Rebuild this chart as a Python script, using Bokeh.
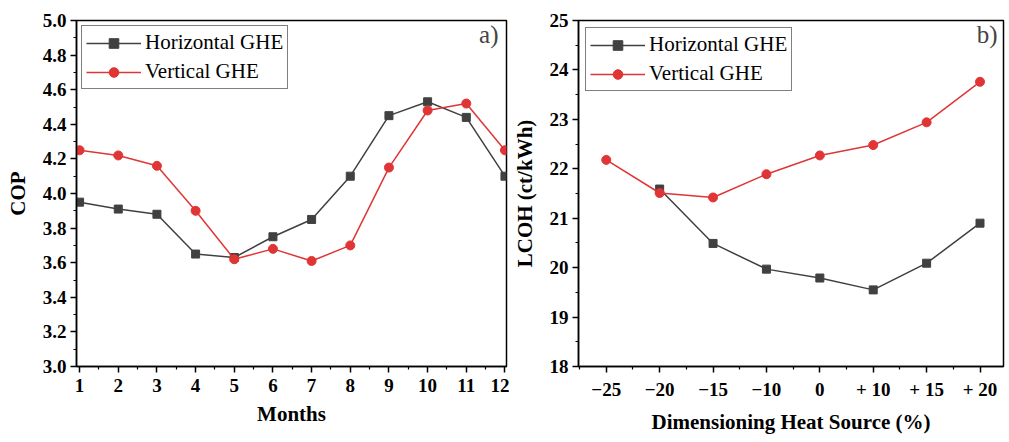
from bokeh.plotting import figure
from bokeh.models import FixedTicker, Legend, LegendItem, Range1d, Label, Title, CustomJSTickFormatter
from bokeh.layouts import row
from bokeh.embed import file_html
from bokeh.resources import INLINE

# ---- data ----
months = [1, 2, 3, 4, 5, 6, 7, 8, 9, 10, 11, 12]
cop_horizontal = [3.95, 3.91, 3.88, 3.65, 3.63, 3.75, 3.85, 4.10, 4.45, 4.53, 4.44, 4.10]
cop_vertical = [4.25, 4.22, 4.16, 3.90, 3.62, 3.68, 3.61, 3.70, 4.15, 4.48, 4.52, 4.25]

dim_labels = ["\u221225", "\u221220", "\u221215", "\u221210", "0", "+ 10", "+ 15", "+ 20"]
lcoh_horizontal_labels = ["\u221220", "\u221215", "\u221210", "0", "+ 10", "+ 15", "+ 20"]
lcoh_horizontal = [21.59, 20.49, 19.97, 19.79, 19.55, 20.09, 20.90]
lcoh_vertical_labels = dim_labels
lcoh_vertical = [22.18, 21.51, 21.42, 21.89, 22.27, 22.48, 22.94, 23.76]

cop_yticks = [3.0, 3.2, 3.4, 3.6, 3.8, 4.0, 4.2, 4.4, 4.6, 4.8, 5.0]
lcoh_yticks = [18, 19, 20, 21, 22, 23, 24, 25]

GRAY = "#404040"
RED = "#e03535"
SERIF = "Liberation Serif"
H = 442
TOP = 20
FRAME_H = 348


def style(p):
    p.outline_line_color = "black"
    p.outline_line_width = 1.5
    p.xgrid.visible = False
    p.ygrid.visible = False
    for ax in (p.xaxis[0], p.yaxis[0]):
        ax.axis_line_width = 1.5
        ax.major_tick_line_width = 1.5
        ax.minor_tick_line_width = 1.2
        ax.major_tick_in = 0
        ax.major_tick_out = 6
        ax.minor_tick_in = 0
        ax.minor_tick_out = 3
        ax.major_label_text_font = SERIF
        ax.major_label_text_font_style = "bold"
        ax.major_label_text_font_size = "19px"
        ax.major_label_text_color = "black"
        ax.axis_label_text_font = SERIF
        ax.axis_label_text_font_style = "bold"
        ax.axis_label_text_font_size = "21px"
        ax.axis_label_text_color = "black"
    p.xaxis[0].major_label_standoff = 6
    p.yaxis[0].major_label_standoff = 4
    p.yaxis[0].axis_label_standoff = 10


def x_title(p, text):
    t = Title(text=text, align="center", vertical_align="top", text_font=SERIF,
              text_font_style="bold", text_font_size="21px", text_color="black", standoff=14)
    p.add_layout(t, "below")


def make_legend(p, rh, rv, margin):
    leg = Legend(items=[LegendItem(label="Horizontal GHE", renderers=rh),
                        LegendItem(label="Vertical GHE", renderers=rv)],
                 location="top_left")
    leg.margin = margin
    leg.padding = 4
    leg.spacing = 4
    leg.label_text_font = SERIF
    leg.label_text_font_size = "21px"
    leg.label_text_color = "black"
    leg.glyph_width = 55
    leg.glyph_height = 24
    leg.label_height = 24
    leg.label_standoff = 4
    leg.border_line_color = "black"
    leg.border_line_width = 1
    leg.background_fill_alpha = 1
    p.add_layout(leg)


# ---- left panel ----
W1 = 509
p1 = figure(width=W1, height=H, output_backend="svg", toolbar_location=None,
            x_range=Range1d(0.92, 12.04), y_range=Range1d(3.0, 5.0),
            min_border_left=76, min_border_right=W1 - 76 - 430, min_border_top=TOP,
            min_border_bottom=H - TOP - FRAME_H)
style(p1)
p1.xaxis[0].ticker = FixedTicker(ticks=months, minor_ticks=[m + 0.5 for m in range(0, 13)])
p1.yaxis[0].ticker = FixedTicker(ticks=cop_yticks,
                                 minor_ticks=[round(3.0 + 0.1 * i, 1) for i in range(21)])
p1.yaxis[0].formatter = CustomJSTickFormatter(code="return tick.toFixed(1);")
p1.yaxis[0].axis_label = "COP"
x_title(p1, "Months")

lh = p1.line(months, cop_horizontal, line_color=GRAY, line_width=1.5)
sh = p1.scatter(months, cop_horizontal, marker="square", size=8, fill_color=GRAY, line_color=GRAY)
lv = p1.line(months, cop_vertical, line_color=RED, line_width=1.5)
sv = p1.scatter(months, cop_vertical, marker="circle", size=9, fill_color=RED, line_color=RED)
make_legend(p1, [lh, sh], [lv, sv], 5)
p1.add_layout(Label(x=12.04, y=4.92, text="a)", text_font=SERIF, text_font_size="25px",
                    text_align="right", text_baseline="middle", x_offset=-8))

# ---- right panel ----
xi = list(range(len(dim_labels)))
xh = [dim_labels.index(c) for c in lcoh_horizontal_labels]
xv = [dim_labels.index(c) for c in lcoh_vertical_labels]

W2 = 1009 - W1
p2 = figure(width=W2, height=H, output_backend="svg", toolbar_location=None,
            x_range=Range1d(-0.52, 7.44), y_range=Range1d(18, 25),
            min_border_left=571 - W1, min_border_right=W2 - (571 - W1) - 432, min_border_top=TOP,
            min_border_bottom=H - TOP - FRAME_H)
style(p2)
p2.xaxis[0].ticker = FixedTicker(ticks=xi, minor_ticks=[i + 0.5 for i in range(-1, 8)])
p2.xaxis[0].major_label_overrides = {i: lab for i, lab in enumerate(dim_labels)}
p2.yaxis[0].ticker = FixedTicker(ticks=lcoh_yticks, minor_ticks=[18 + 0.5 * i for i in range(15)])
p2.yaxis[0].axis_label = "LCOH (ct/kWh)"
x_title(p2, "Dimensioning Heat Source (%)")

lh2 = p2.line(xh, lcoh_horizontal, line_color=GRAY, line_width=1.5)
sh2 = p2.scatter(xh, lcoh_horizontal, marker="square", size=8, fill_color=GRAY, line_color=GRAY)
lv2 = p2.line(xv, lcoh_vertical, line_color=RED, line_width=1.5)
sv2 = p2.scatter(xv, lcoh_vertical, marker="circle", size=9, fill_color=RED, line_color=RED)
make_legend(p2, [lh2, sh2], [lv2, sv2], 7)
p2.add_layout(Label(x=7.44, y=24.72, text="b)", text_font=SERIF, text_font_size="25px",
                    text_align="right", text_baseline="middle", x_offset=-6))

layout = row(p1, p2)
open("out.html", "w").write(file_html(layout, INLINE))
